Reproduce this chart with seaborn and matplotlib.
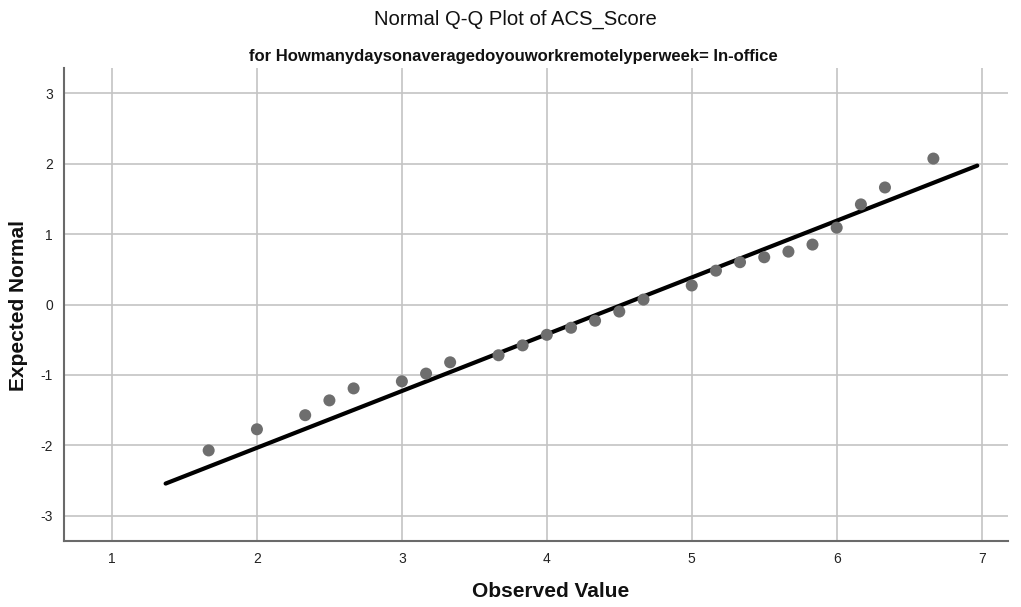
import numpy as np
import pandas as pd
import matplotlib
matplotlib.use("Agg")
import matplotlib.pyplot as plt
import seaborn as sns

observed = [1.667, 2.0, 2.333, 2.5, 2.667, 3.0, 3.167, 3.333, 3.667, 3.833, 4.0, 4.167,
            4.333, 4.5, 4.667, 5.0, 5.167, 5.333, 5.5, 5.667, 5.833, 6.0, 6.167, 6.333, 6.667]
expected = [-2.07, -1.77, -1.57, -1.36, -1.19, -1.09, -0.98, -0.82, -0.72, -0.58, -0.43, -0.33,
            -0.23, -0.10, 0.07, 0.27, 0.48, 0.60, 0.67, 0.75, 0.85, 1.09, 1.42, 1.66, 2.07]
line_x = [1.37, 6.97]
line_y = [-2.54, 1.97]
x_ticks = [1, 2, 3, 4, 5, 6, 7]
y_ticks = [-3, -2, -1, 0, 1, 2, 3]

df = pd.DataFrame({"Observed Value": observed, "Expected Normal": expected})
ref = pd.DataFrame({"x": line_x, "y": line_y})

sns.set_theme(style="white")
plt.rcParams['font.family'] = ['Liberation Sans', 'DejaVu Sans']
plt.rcParams['axes.unicode_minus'] = False

fig = plt.figure(figsize=(10.21, 6.07), dpi=100)
ax = fig.add_axes([0.0627, 0.1087, 0.9243, 0.7793])

sns.lineplot(data=ref, x="x", y="y", ax=ax, color="black", linewidth=3, zorder=3)
sns.scatterplot(data=df, x="Observed Value", y="Expected Normal", ax=ax,
                color="#6e6e6e", s=75, edgecolor="none", zorder=4)

ax.set_xlim(0.669, 7.18)
ax.set_ylim(-3.355, 3.355)
ax.set_xticks(x_ticks)
ax.set_yticks(y_ticks)
ax.grid(True, color="#c4c4c4", linewidth=1.2)
ax.set_axisbelow(True)
for s in ["top", "right"]:
    ax.spines[s].set_visible(False)
for s in ["left", "bottom"]:
    ax.spines[s].set_color("#6a6a6a")
    ax.spines[s].set_linewidth(1.5)
ax.tick_params(axis="x", labelsize=10, colors="#222222", length=0, pad=8)
ax.tick_params(axis="y", labelsize=10, labelcolor="#222222", length=2, color="#aaaaaa", pad=6)

ax.set_xlabel("")
ax.set_ylabel("")
fig.text(0.539, 0.025, "Observed Value", ha="center", va="center",
         fontsize=15, fontweight="bold", color="#111111")
fig.text(0.018, 0.497, "Expected Normal", ha="center", va="center", rotation=90,
         fontsize=15, fontweight="bold", color="#111111")

fig.text(0.505, 0.968, "Normal Q-Q Plot of ACS_Score", ha="center", va="center",
         fontsize=14.6, color="#111111")
fig.text(0.503, 0.907, "for Howmanydaysonaveragedoyouworkremotelyperweek= In-office", ha="center",
         va="center", fontsize=12, fontweight="bold", color="#111111")

fig.savefig("out.png", dpi=100, facecolor="white")
